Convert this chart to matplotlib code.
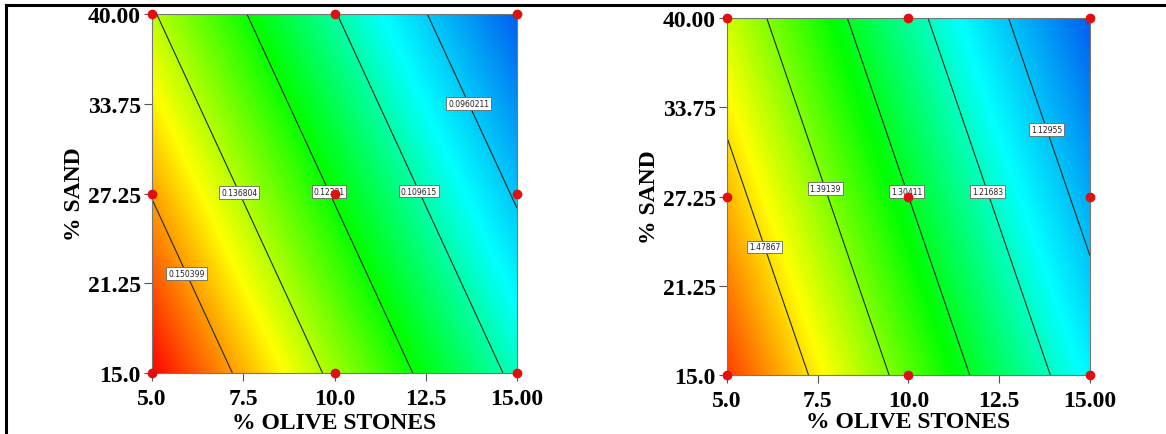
import numpy as np
import matplotlib
matplotlib.use("Agg")
import matplotlib.pyplot as plt
from matplotlib.colors import LinearSegmentedColormap
from matplotlib.lines import Line2D

# design grid (% olive stones, % sand)
olive = [5.0, 10.0, 15.0]
sand = [15.0, 27.5, 40.0]

# response at the 3x3 design grid (rows = sand)
resp_left = [[0.1625, 0.1350, 0.1075],
             [0.1500, 0.1225, 0.0950],
             [0.1375, 0.1100, 0.0825]]
resp_right = [[1.5669, 1.3704, 1.1739],
              [1.5006, 1.3041, 1.1076],
              [1.4344, 1.2379, 1.0414]]

levels_left = [0.0960211, 0.109615, 0.123209, 0.136804, 0.150399]
labels_left = ["0.0960211", "0.109615", "0.12321", "0.136804", "0.150399"]
levels_right = [1.12955, 1.21683, 1.30411, 1.39139, 1.47867]
labels_right = ["1.12955", "1.21683", "1.30411", "1.39139", "1.47867"]

# label anchor points (data coords)
lab_pos_left = [(13.77, 33.9), (12.42, 27.8), (10.0, 27.8), (7.58, 27.8), (6.1, 22.1)]
lab_pos_right = [(13.84, 32.2), (12.22, 27.9), (9.98, 27.9), (7.75, 28.1), (6.07, 24.0)]

xticks = [5.0, 7.5, 10.0, 12.5, 15.0]
xticklabels = ["5.0", "7.5", "10.0", "12.5", "15.00"]
yticks = [15.0, 21.25, 27.5, 33.75, 40.0]
yticklabels = ["15.0", "21.25", "27.25", "33.75", "40.00"]

pts_x = [5, 10, 15, 5, 10, 15, 5, 10, 15]
pts_y = [15, 15, 15, 27.5, 27.5, 27.5, 40, 40, 40]

cmap = LinearSegmentedColormap.from_list(
    "de", ["#0060f0", "#00ffff", "#00ff00", "#ffff00", "#ff0000"])

font = "Liberation Serif"

fig = plt.figure(figsize=(11.66, 4.35), dpi=100)
ax1 = fig.add_axes([0.1304, 0.1402, 0.3130, 0.8253])
ax2 = fig.add_axes([0.6235, 0.1356, 0.3113, 0.8207])


def draw(ax, z, levels, labels, lab_pos, vmin, vmax, xpad):
    z = np.array(z)
    X, Y = np.meshgrid(olive, sand)
    # half-cell padding so bilinear interpolation hits the grid nodes exactly
    ax.imshow(z, origin="lower", extent=[2.5, 17.5, 8.75, 46.25],
              cmap=cmap, vmin=vmin, vmax=vmax, interpolation="bilinear",
              interpolation_stage="data", aspect="auto")
    cs = ax.contour(X, Y, z, levels=levels, colors="#1f2a1f", linewidths=0.8)
    fmt = {lv: lb for lv, lb in zip(levels, labels)}
    texts = ax.clabel(cs, inline=False, fmt=fmt, fontsize=5.5,
                      manual=lab_pos, colors="#222222")
    for t in texts:
        t.set_rotation(0)
        t.set_bbox(dict(boxstyle="square,pad=0.25", fc="white",
                        ec="#666666", lw=0.6))
    ax.plot(pts_x, pts_y, "o", color="#e01010", ms=6, clip_on=False, zorder=5)
    ax.set_xlim(5, 15)
    ax.set_ylim(15, 40)
    ax.set_xticks(xticks)
    ax.set_xticklabels(xticklabels)
    ax.set_yticks(yticks)
    ax.set_yticklabels(yticklabels)
    ax.tick_params(direction="out", length=6, width=0.8, color="#555555",
                   labelsize=17, pad=2)
    ax.tick_params(axis="x", pad=5)
    for lab in ax.get_xticklabels() + ax.get_yticklabels():
        lab.set_fontfamily(font)
        lab.set_fontweight("bold")
    for sp in ax.spines.values():
        sp.set_color("#777777")
        sp.set_linewidth(0.8)
    ax.set_xlabel("% OLIVE STONES", fontsize=17, fontweight="bold",
                  family=font, labelpad=xpad)
    ax.set_ylabel("% SAND", fontsize=17, fontweight="bold",
                  family=font, labelpad=2)


draw(ax1, resp_left, levels_left, labels_left, lab_pos_left, 0.0825, 0.1625, 2)
draw(ax2, resp_right, levels_right, labels_right, lab_pos_right, 1.0414, 1.60, 0)

# table-style border lines
fig.add_artist(Line2D([6 / 1166, 1.0], [1 - 6 / 435, 1 - 6 / 435],
                      color="black", lw=2.2, transform=fig.transFigure))
fig.add_artist(Line2D([6 / 1166, 6 / 1166], [0, 1 - 6 / 435],
                      color="black", lw=2.2, transform=fig.transFigure))

fig.savefig("out.png", dpi=100)
